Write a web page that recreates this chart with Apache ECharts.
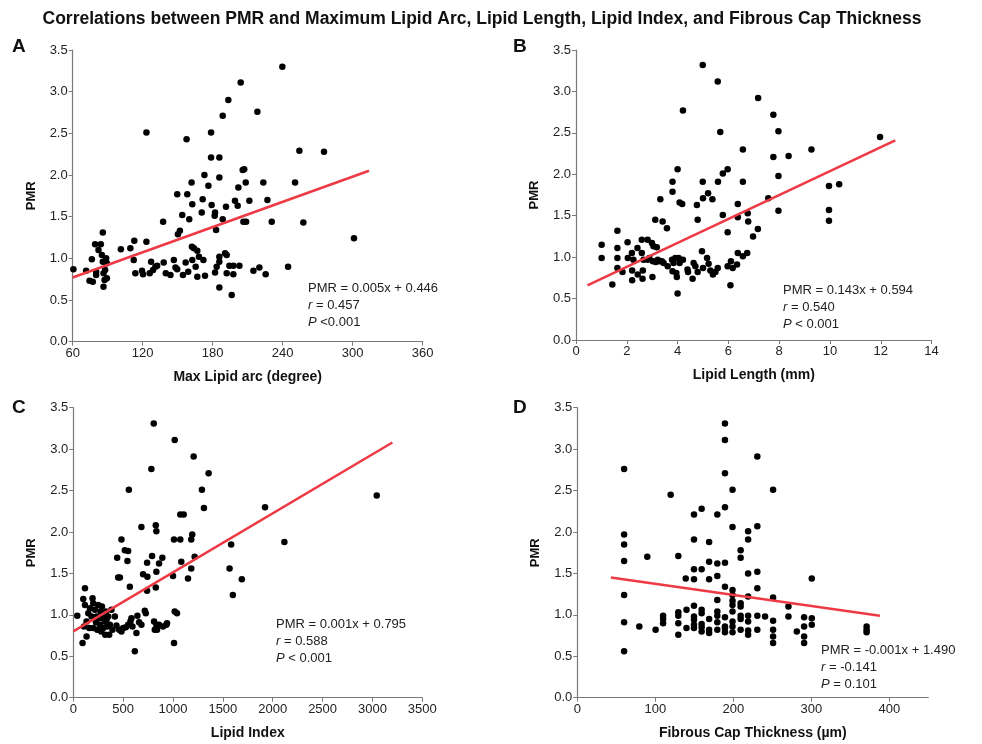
<!DOCTYPE html>
<html>
<head>
<meta charset="utf-8">
<script src="https://cdn.jsdelivr.net/npm/echarts@6/dist/echarts.min.js"></script>
<style>
  html, body { margin: 0; padding: 0; background: #fff; }
  #chart { width: 982px; height: 744px; }
</style>
</head>
<body>
<div id="chart"></div>
<script>
  // [x, PMR] pairs
  const lipidArc = [
    [60.6,0.87],[71.5,0.85],[74.4,0.73],[76.4,0.99],[77.2,0.72],[79.2,1.17],[80.1,0.84],[80.1,0.80],
    [82.1,1.10],[84.1,1.17],[85,1.04],[85.8,1.31],[85.8,0.96],[86.4,0.82],[86.4,0.66],[87.3,0.74],
    [87.8,0.86],[88.7,1.00],[89.3,0.94],[89.3,0.76],[101.3,1.11],[109.4,1.12],[112.8,1.21],[112.3,0.98],
    [113.7,0.82],[119.4,0.85],[120.3,0.81],[123.2,2.51],[123.2,1.20],[126,0.82],[127.2,0.96],[128.9,0.86],
    [130.9,0.90],[132.4,0.91],[137.5,1.44],[138,0.95],[139.8,0.82],[143.8,0.80],[146.7,0.98],[148.1,0.89],
    [149.6,0.87],[150.2,1.29],[151.9,1.33],[149.6,1.77],[153.9,1.52],[154.5,0.80],[156.8,0.95],[157.6,2.43],
    [158.2,1.77],[159.9,1.47],[159,0.84],[161.9,1.91],[162.2,1.14],[162.5,1.65],[162.5,0.98],[163.9,1.12],
    [165.4,0.90],[166.8,0.78],[166.8,1.09],[168.2,1.02],[170.6,1.55],[171.4,1.71],[172.9,2.00],[172,0.98],
    [173.4,0.79],[176.3,1.87],[178.6,2.51],[178.6,2.21],[179.1,1.64],[182,1.55],[181.7,1.51],[182.9,1.34],
    [182,0.83],[183.4,0.90],[185.7,2.21],[185.7,1.97],[185.7,1.02],[185.7,0.96],[185.7,0.65],[188.6,2.71],
    [188.6,1.47],[190.6,1.06],[192,1.04],[191.4,1.62],[192,0.82],[193.4,2.90],[194.3,0.91],[196.3,0.56],
    [197.7,0.91],[197.7,0.81],[199.1,1.69],[201.4,1.63],[202,1.85],[202.9,0.91],[204,3.11],[205.7,2.06],
    [207,2.07],[206.3,1.44],[208.3,1.91],[208.6,1.44],[211.4,1.69],[214.9,0.85],[218.3,2.76],[220,0.89],
    [223.4,1.91],[225.4,0.81],[226.9,1.70],[230.6,1.44],[239.7,3.30],[244.6,0.90],[250.6,1.91],[254.3,2.29],
    [257.7,1.43],[275.4,2.28],[301.1,1.24]
  ];
  const lipidLength = [
    [1.01,1.15],[1.01,0.99],[1.43,0.67],[1.63,1.32],[1.63,1.11],[1.63,0.99],[1.63,0.87],[1.83,0.82],
    [2.03,1.18],[2.04,0.99],[2.2,1.05],[2.21,0.84],[2.21,0.72],[2.26,0.97],[2.42,1.11],[2.43,0.79],
    [2.59,1.21],[2.59,1.05],[2.62,0.74],[2.63,0.84],[2.66,0.97],[2.82,1.21],[2.82,0.97],[2.89,0.99],
    [2.99,1.17],[3.01,0.76],[3.03,0.95],[3.05,1.13],[3.12,1.45],[3.14,0.94],[3.18,1.12],[3.22,0.97],
    [3.28,0.95],[3.32,1.70],[3.38,0.95],[3.41,1.43],[3.45,0.93],[3.58,1.35],[3.61,0.89],[3.8,1.91],
    [3.8,1.79],[3.78,0.97],[3.8,0.83],[3.84,0.93],[3.91,0.99],[3.95,0.81],[3.97,0.76],[4.0,2.06],
    [4.0,0.56],[4.04,0.99],[4.08,0.93],[4.08,1.66],[4.18,1.64],[4.21,2.77],[4.21,0.97],[4.39,0.85],
    [4.41,0.82],[4.59,0.74],[4.63,0.93],[4.7,0.89],[4.76,1.63],[4.79,1.45],[4.79,0.82],[4.96,1.07],
    [4.99,3.32],[4.99,1.91],[5.0,0.87],[5.0,1.71],[5.16,0.99],[5.2,1.77],[5.22,0.92],[5.29,0.84],
    [5.37,1.70],[5.39,0.79],[5.49,0.82],[5.58,3.12],[5.58,0.87],[5.59,1.91],[5.68,2.51],[5.78,2.01],
    [5.78,1.51],[5.97,2.06],[5.97,1.30],[5.97,0.89],[6.08,0.66],[6.1,0.95],[6.17,0.87],[6.34,0.91],
    [6.37,1.64],[6.37,1.48],[6.37,1.05],[6.57,2.30],[6.57,1.91],[6.57,1.01],[6.74,1.05],[6.76,1.53],
    [6.78,1.43],[6.97,1.25],[7.17,2.92],[7.16,1.34],[7.57,1.71],[7.77,2.72],[7.77,2.21],[7.97,2.52],
    [7.97,1.98],[7.97,1.56],[8.37,2.22],[9.27,2.30],[9.96,1.86],[9.96,1.57],[9.96,1.44],[10.36,1.88],
    [11.97,2.45]
  ];
  const lipidIndex = [
    [40,0.99],[93,0.66],[100,1.19],[107,0.86],[117,1.32],[117,1.12],[133,0.74],[133,0.92],
    [150,1.02],[160,0.84],[167,1.08],[183,0.98],[193,1.20],[200,0.84],[200,1.14],[217,1.06],
    [227,0.91],[233,0.98],[240,0.82],[250,1.12],[260,0.96],[267,0.88],[273,1.04],[280,0.80],
    [287,1.10],[293,0.96],[300,0.84],[307,1.00],[317,0.92],[320,0.76],[327,1.04],[333,0.94],
    [340,0.86],[350,0.98],[360,0.76],[367,0.88],[383,1.06],[393,0.82],[417,0.98],[433,0.87],
    [440,1.69],[450,1.45],[467,1.45],[460,0.82],[483,1.91],[483,0.80],[500,0.84],[517,1.78],
    [527,0.85],[543,1.65],[550,1.77],[557,2.51],[550,0.88],[567,1.34],[573,0.92],[583,0.96],
    [593,0.86],[617,0.56],[633,0.78],[643,0.99],[660,0.91],[683,2.06],[683,0.88],[700,1.49],
    [717,1.05],[727,1.02],[740,1.63],[743,1.46],[740,1.29],[783,2.76],[790,1.71],[810,0.92],
    [817,0.82],[827,2.08],[833,1.52],[833,2.01],[827,1.33],[833,0.88],[840,0.82],[860,1.62],
    [860,0.88],[893,1.69],[900,0.86],[933,0.88],[940,0.90],[807,3.31],[1000,1.47],[1010,1.91],
    [1017,3.11],[1010,0.66],[1017,1.04],[1040,1.02],[1073,1.91],[1073,2.21],[1083,1.64],[1107,2.21],
    [1150,1.44],[1183,1.56],[1183,1.91],[1193,1.97],[1207,2.91],[1217,1.70],[1290,2.51],[1310,2.29],
    [1357,2.71],[1567,1.56],[1583,1.85],[1600,1.24],[1690,1.43],[1923,2.30],[2117,1.88],[3043,2.44]
  ];
  const capThickness = [
    [60,2.76],[60,1.97],[60,1.85],[60,1.65],[60,1.24],[60,0.91],[60,0.56],[79.5,0.86],
    [89.7,1.70],[100.4,0.82],[110,0.99],[110,0.95],[110,0.90],[119.7,2.45],[129.5,1.71],[129.5,1.03],
    [129.5,0.99],[129.5,0.90],[129.5,0.76],[139,1.44],[140,1.06],[140,0.84],[149.6,2.21],[149.6,1.91],
    [149.6,1.55],[149.6,1.43],[149.6,1.11],[149.6,0.98],[149.6,0.94],[149.6,0.88],[149.6,0.84],[159.4,2.28],
    [159.4,1.55],[159.4,1.06],[159.4,1.02],[159.4,0.89],[159.4,0.85],[159.4,0.80],[169,1.88],[169,1.64],
    [169,1.43],[169,0.95],[169,0.82],[169,0.78],[179.5,2.21],[179.5,1.62],[179.5,1.47],[179.5,1.18],
    [179.5,1.04],[179.5,0.99],[179.5,0.91],[179.5,0.82],[189.3,3.31],[189.3,3.11],[189.3,2.71],[189.3,2.30],
    [189.3,1.63],[189.3,1.34],[189.3,0.97],[189.3,0.86],[189.3,0.84],[189.3,0.79],[199,2.51],[199,2.06],
    [199,1.30],[199,1.24],[199,1.17],[199,1.12],[199,1.04],[199,0.92],[199,0.86],[199,0.79],
    [209.4,1.78],[209.4,1.69],[209.4,1.14],[209.4,1.10],[209.4,0.99],[209.4,0.95],[209.4,0.82],[219,2.01],
    [219,1.91],[219,1.50],[219,1.22],[219,0.99],[219,0.92],[219,0.81],[219,0.76],[230.8,2.91],
    [230.8,2.07],[230.8,1.52],[230.8,1.32],[230.8,0.99],[230.8,0.82],[240.7,0.98],[251,2.51],[251,1.21],
    [251,0.93],[251,0.82],[251,0.74],[251,0.66],[270.7,1.10],[270.7,0.98],[281.4,0.80],[290.8,0.97],
    [290.8,0.86],[290.8,0.74],[290.8,0.66],[300.6,1.44],[300.6,0.96],[300.6,0.88],[370.9,0.86],[370.9,0.82],
    [370.9,0.79]
  ];

  // fitted regression lines (end points as drawn)
  const fitArc = [[60,0.77],[314,2.05]];
  const fitLength = [[0.45,0.66],[12.57,2.41]];
  const fitIndex = [[0,0.80],[3200,3.08]];
  const fitCap = [[43,1.45],[388,0.99]];

  // axis ranges: [min, max, interval]
  const xArc = [60, 360, 60];
  const xLength = [0, 14, 2];
  const xIndex = [0, 3500, 500];
  const xCap = [0, 450, 100];
  const yPMR = [0, 3.5, 0.5];

  const xNames = ['Max Lipid arc (degree)', 'Lipid Length (mm)', 'Lipid Index', 'Fibrous Cap Thickness (\u00b5m)'];
  const statLines = [
    ['PMR = 0.005x + 0.446', '{i|r} = 0.457', '{i|P} <0.001'],
    ['PMR = 0.143x + 0.594', '{i|r} = 0.540', '{i|P} < 0.001'],
    ['PMR = 0.001x + 0.795', '{i|r} = 0.588', '{i|P} < 0.001'],
    ['PMR = -0.001x + 1.490', '{i|r} = -0.141', '{i|P} = 0.101']
  ];

  const FONT = '"Liberation Sans", Arial, sans-serif';

  const grids = [
    { left: 72.7, top: 50, width: 350, height: 291.7 },
    { left: 576, top: 50, width: 355.6, height: 290 },
    { left: 73.3, top: 407.7, width: 349, height: 290 },
    { left: 577.3, top: 407.7, width: 351, height: 290 }
  ];
  const xRanges = [xArc, xLength, xIndex, xCap];
  const points = [lipidArc, lipidLength, lipidIndex, capThickness];
  const fits = [fitArc, fitLength, fitIndex, fitCap];
  const statPos = [[308, 288], [783, 290], [276, 624], [821, 650]];
  const letterPos = [[12, 47], [513, 47], [12, 408], [513, 408]];

  const axisLine = { lineStyle: { color: '#7a7a7a', width: 1.2 } };
  const axisTick = { length: 4, lineStyle: { color: '#7a7a7a' } };

  const xAxes = xRanges.map((r, i) => ({
    type: 'value', gridIndex: i, min: r[0], max: r[1], interval: r[2],
    name: xNames[i], nameLocation: 'middle', nameGap: 28,
    nameTextStyle: { fontFamily: FONT, fontWeight: 'bold', fontSize: 14, color: '#111' },
    axisLine: axisLine, axisTick: axisTick, splitLine: { show: false },
    axisLabel: { fontFamily: FONT, fontSize: 13, color: '#222', margin: 5, showMaxLabel: i !== 3,
      formatter: v => String(v) }
  }));
  const yAxes = grids.map((g, i) => ({
    type: 'value', gridIndex: i, min: yPMR[0], max: yPMR[1], interval: yPMR[2],
    name: 'PMR', nameLocation: 'middle', nameGap: 35, nameRotate: 90,
    nameTextStyle: { fontFamily: FONT, fontWeight: 'bold', fontSize: 13, color: '#111' },
    axisLine: Object.assign({ show: true }, axisLine), axisTick: Object.assign({ show: true }, axisTick),
    splitLine: { show: false },
    axisLabel: { fontFamily: FONT, fontSize: 13, color: '#222', margin: 5, formatter: v => v.toFixed(1) }
  }));

  const series = [];
  points.forEach((pts, i) => {
    series.push({
      type: 'scatter', xAxisIndex: i, yAxisIndex: i, data: pts,
      symbolSize: 6.5, itemStyle: { color: '#000', opacity: 1 }, silent: true
    });
    series.push({
      type: 'line', xAxisIndex: i, yAxisIndex: i, data: fits[i],
      showSymbol: false, symbol: 'none', silent: true,
      lineStyle: { color: '#ee3a45', width: 2.6 }
    });
  });

  const graphic = [{
    type: 'text', x: 482, y: 19,
    style: { text: 'Correlations between PMR and Maximum Lipid Arc, Lipid Length, Lipid Index, and Fibrous Cap Thickness',
      font: 'bold 17.5px ' + FONT, fill: '#111', align: 'center', verticalAlign: 'middle' }
  }];
  ['A', 'B', 'C', 'D'].forEach((l, i) => {
    graphic.push({ type: 'text', x: letterPos[i][0], y: letterPos[i][1],
      style: { text: l, font: 'bold 19px ' + FONT, fill: '#111', verticalAlign: 'middle' } });
  });
  statLines.forEach((lines, i) => {
    lines.forEach((t, k) => {
      graphic.push({ type: 'text', x: statPos[i][0], y: statPos[i][1] + k * 17,
        style: { text: t, font: '13px ' + FONT, fill: '#222', verticalAlign: 'middle',
          rich: { i: { fontStyle: 'italic', fontFamily: FONT, fontSize: 13, fill: '#222' } } } });
    });
  });

  const chart = echarts.init(document.getElementById('chart'));
  chart.setOption({
    animation: false,
    backgroundColor: '#fff',
    grid: grids,
    xAxis: xAxes,
    yAxis: yAxes,
    series: series,
    graphic: graphic
  });
</script>
</body>
</html>
